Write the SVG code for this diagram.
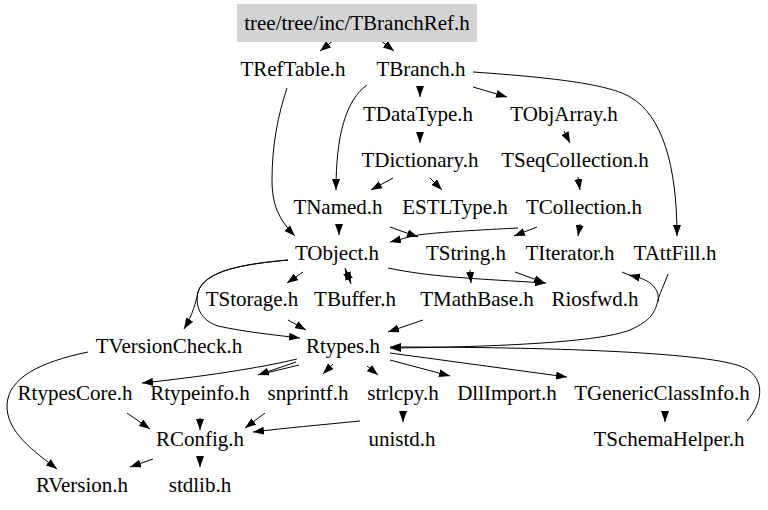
<svg xmlns="http://www.w3.org/2000/svg" width="768" height="510" viewBox="0 0 768 510">
<style>
text{font-family:"Liberation Serif","Times New Roman",serif;font-size:21px;fill:#000;text-anchor:middle}
.e path{fill:none;stroke:#000;stroke-width:1}
.e path.a{marker-end:url(#ah)}
</style>
<defs>
<marker id="ah" viewBox="0 0 11 8" markerWidth="11" markerHeight="8" refX="11" refY="4" orient="auto" markerUnits="userSpaceOnUse">
<path d="M0,0 L11,4 L0,8 z" fill="#000"/>
</marker>
</defs>
<rect width="768" height="510" fill="#fff"/>
<g class="e" id="edges">
<path class="a" d="M334,40 L320,51"/>
<path class="a" d="M380,40 L394,51"/>
<path class="a" d="M287,88 C278,115 272,145 272,180 C272,205 279,220 295,236"/>
<path class="a" d="M420,86 L420,97"/>
<path class="a" d="M473,87 L507,97"/>
<path class="a" d="M367,85 C346,100 336,135 336,190"/>
<path class="a" d="M473,72 C560,78 610,85 630,97 C662,115 677,165 677,236"/>
<path class="a" d="M420,132 L420,143"/>
<path class="a" d="M564,131 L570,143"/>
<path class="a" d="M393,178 L371,190"/>
<path class="a" d="M430,178 L442,190"/>
<path class="a" d="M578,177 L580,190"/>
<path class="a" d="M339,224 L339,235"/>
<path class="a" d="M390,227 L418,237"/>
<path class="a" d="M518,228 C480,230 440,232 418,235 C408,237 398,240 390,242"/>
<path class="a" d="M537,227 L514,236"/>
<path class="a" d="M580,224 L578,236"/>
<path class="a" d="M303,272 L287,283"/>
<path class="a" d="M345,268 L351,283"/>
<path class="a" d="M351,284 L345,269"/>
<path class="a" d="M288,260 C245,264 205,270 198,292 C196,302 193,314 184,329"/>
<path class="a" d="M288,260 C245,264 205,270 198,292 C195,306 200,320 218,326 C245,332 275,335 300,338"/>
<path class="a" d="M388,268 C430,277 480,279 546,283"/>
<path class="a" d="M470,270 L471,283"/>
<path class="a" d="M515,272 L545,283"/>
<path class="a" d="M288,320 L306,330"/>
<path class="a" d="M423,320 L388,332"/>
<path class="a" d="M668,274 C664,285 660,293 658,300 C655,312 652,320 630,330 C600,342 500,347 390,348"/>
<path class="a" d="M658,302 C660,290 652,282 640,278 C636,277 633,276 629,275"/>
<path d="M622,272 L634,277"/>
<path class="a" d="M747,421 C765,400 765,375 740,366 C700,352 550,347 390,347"/>
<path class="a" d="M88,352 C40,362 8,378 7,405 C6,432 35,452 57,469"/>
<path class="a" d="M297,359 C260,368 200,377 142,383"/>
<path class="a" d="M296,362 L258,375"/>
<path d="M299,365 L266,373"/>
<path class="a" d="M333,364 L323,374"/>
<path class="a" d="M367,366 L378,375"/>
<path class="a" d="M390,360 L450,376"/>
<path class="a" d="M390,353 L567,377"/>
<path class="a" d="M403,411 L403,422"/>
<path class="a" d="M665,411 L665,422"/>
<path class="a" d="M127,413 L150,429"/>
<path class="a" d="M200,418 L200,430"/>
<path class="a" d="M265,413 L245,428"/>
<path class="a" d="M360,421 C320,425 285,428 253,432"/>
<path class="a" d="M153,459 L130,467"/>
<path class="a" d="M200,456 L200,467"/>
</g>
<g id="n_TBranchRef"><rect x="237" y="4" width="240" height="38" fill="#d3d3d3"/><text x="357" y="30">tree/tree/inc/TBranchRef.h</text></g>
<g id="n_TRefTable"><text x="293" y="76">TRefTable.h</text></g>
<g id="n_TBranch"><text x="421" y="76">TBranch.h</text></g>
<g id="n_TDataType"><text x="418" y="121">TDataType.h</text></g>
<g id="n_TObjArray"><text x="564" y="121">TObjArray.h</text></g>
<g id="n_TDictionary"><text x="420" y="167">TDictionary.h</text></g>
<g id="n_TSeqCollection"><text x="575" y="167">TSeqCollection.h</text></g>
<g id="n_TNamed"><text x="338" y="214">TNamed.h</text></g>
<g id="n_ESTLType"><text x="455" y="214">ESTLType.h</text></g>
<g id="n_TCollection"><text x="584" y="214">TCollection.h</text></g>
<g id="n_TObject"><text x="337" y="260">TObject.h</text></g>
<g id="n_TString"><text x="466" y="260">TString.h</text></g>
<g id="n_TIterator"><text x="570" y="260">TIterator.h</text></g>
<g id="n_TAttFill"><text x="675" y="260">TAttFill.h</text></g>
<g id="n_TStorage"><text x="252" y="306">TStorage.h</text></g>
<g id="n_TBuffer"><text x="355" y="306">TBuffer.h</text></g>
<g id="n_TMathBase"><text x="477" y="306">TMathBase.h</text></g>
<g id="n_Riosfwd"><text x="595" y="306">Riosfwd.h</text></g>
<g id="n_TVersionCheck"><text x="169" y="353">TVersionCheck.h</text></g>
<g id="n_Rtypes"><text x="343" y="353">Rtypes.h</text></g>
<g id="n_RtypesCore"><text x="75" y="400">RtypesCore.h</text></g>
<g id="n_Rtypeinfo"><text x="200" y="400">Rtypeinfo.h</text></g>
<g id="n_snprintf"><text x="308" y="400">snprintf.h</text></g>
<g id="n_strlcpy"><text x="403" y="400">strlcpy.h</text></g>
<g id="n_DllImport"><text x="507" y="400">DllImport.h</text></g>
<g id="n_TGenericClassInfo"><text x="662" y="400">TGenericClassInfo.h</text></g>
<g id="n_RConfig"><text x="200" y="446">RConfig.h</text></g>
<g id="n_unistd"><text x="402" y="446">unistd.h</text></g>
<g id="n_TSchemaHelper"><text x="669" y="446">TSchemaHelper.h</text></g>
<g id="n_RVersion"><text x="82" y="492">RVersion.h</text></g>
<g id="n_stdlib"><text x="200" y="492">stdlib.h</text></g>
</svg>
